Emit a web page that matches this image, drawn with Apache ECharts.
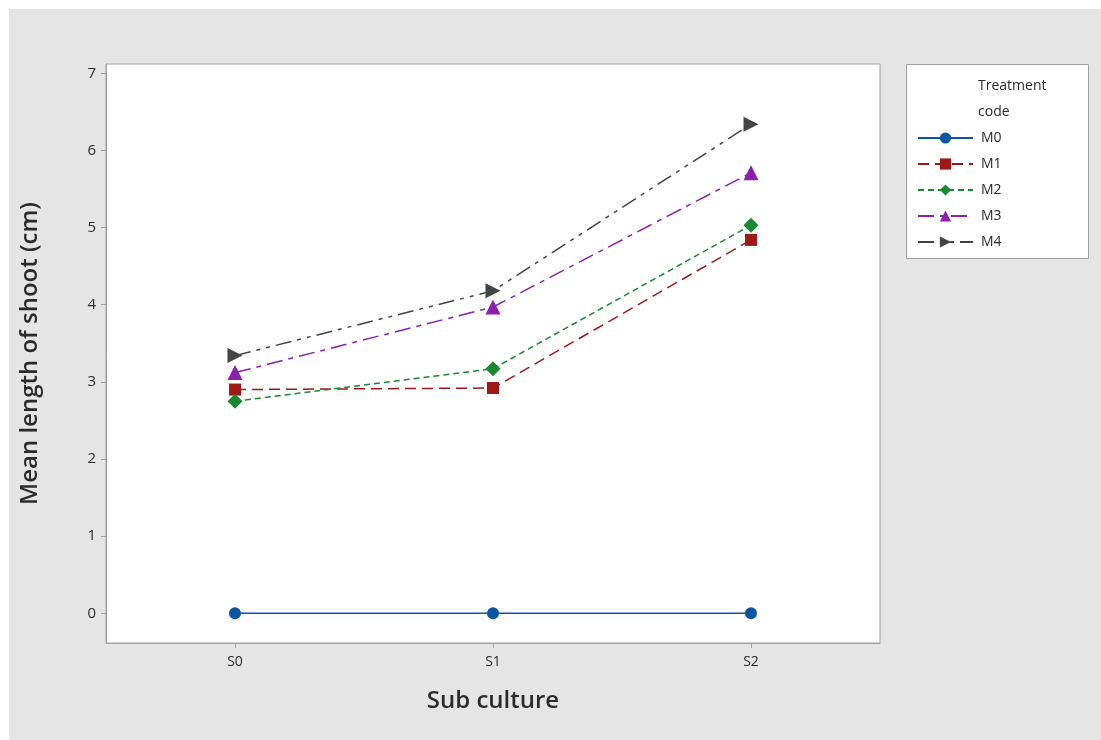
<!DOCTYPE html>
<html>
<head>
<meta charset="utf-8">
<script src="https://cdn.jsdelivr.net/npm/echarts@6/dist/echarts.min.js"></script>
<style>
html,body{margin:0;padding:0;background:#ffffff;}
#c{width:1101px;height:740px;}
</style>
</head>
<body>
<div id="c"></div>
<script>
var categories = ['S0', 'S1', 'S2'];
var yTicks = [0, 1, 2, 3, 4, 5, 6, 7];
var seriesNames = ['M0', 'M1', 'M2', 'M3', 'M4'];
var M0 = [0, 0, 0];
var M1 = [2.90, 2.92, 4.84];
var M2 = [2.75, 3.17, 5.03];
var M3 = [3.12, 3.97, 5.71];
var M4 = [3.34, 4.18, 6.34];

var FONT = '"Open Sans", "Noto Sans", sans-serif';
var chart = echarts.init(document.getElementById('c'), null, {renderer: 'canvas'});

function mk(name, data, color, symbol, size, dash, rot) {
  return {
    name: name, type: 'line', data: data,
    symbol: symbol, symbolSize: size, symbolRotate: rot || 0,
    showAllSymbol: true,
    lineStyle: {color: color, width: 1.5, type: dash},
    itemStyle: {color: color},
    emphasis: {disabled: true},
    animation: false
  };
}

var option = {
  backgroundColor: '#ffffff',
  animation: false,
  graphic: [
    {type: 'rect', shape: {x: 9, y: 9, width: 1092, height: 731}, style: {fill: '#e5e5e5'}, z: -10, silent: true},
    {type: 'rect', shape: {x: 906.5, y: 64.5, width: 182, height: 194}, style: {fill: '#ffffff', stroke: '#a0a0a0', lineWidth: 1}, z: 0, silent: true},
    {type: 'text', left: 978, top: 73, style: {text: 'Treatment\ncode', font: '14px ' + FONT, fill: '#2b2b2b', lineHeight: 26}, z: 5, silent: true}
  ],
  grid: {left: 106, top: 64, right: 221, bottom: 97, show: true, backgroundColor: '#ffffff', borderColor: '#a0a0a0', borderWidth: 1, containLabel: false},
  legend: {
    data: seriesNames,
    orient: 'vertical',
    left: 912, top: 126,
    itemWidth: 55, itemHeight: 14, itemGap: 12,
    textStyle: {fontFamily: FONT, fontSize: 14, color: '#2b2b2b', padding: [0, 0, 0, 3]},
    selectedMode: false
  },
  xAxis: {
    type: 'category', data: categories, boundaryGap: true,
    name: 'Sub culture', nameLocation: 'middle', nameGap: 46,
    nameTextStyle: {fontFamily: FONT, fontSize: 24, fontWeight: 600, color: '#2b2b2b'},
    axisLine: {show: true, onZero: false, lineStyle: {color: '#a0a0a0'}},
    axisTick: {show: true, alignWithLabel: true, length: 5, lineStyle: {color: '#a0a0a0'}},
    axisLabel: {fontFamily: FONT, fontSize: 14, color: '#2b2b2b', margin: 12},
    splitLine: {show: false}
  },
  yAxis: {
    type: 'value', min: -0.385, max: 7.12,
    name: 'Mean length of shoot (cm)', nameLocation: 'middle', nameGap: 64,
    nameTextStyle: {fontFamily: FONT, fontSize: 24, fontWeight: 600, color: '#2b2b2b'},
    axisLine: {show: true, lineStyle: {color: '#a0a0a0'}},
    axisTick: {show: true, length: 5, customValues: yTicks, lineStyle: {color: '#a0a0a0'}},
    axisLabel: {fontFamily: FONT, fontSize: 15, color: '#2b2b2b', margin: 10, customValues: yTicks},
    splitLine: {show: false}
  },
  series: [
    mk('M0', M0, '#0b56a4', 'circle', 12, 'solid'),
    mk('M1', M1, '#a01818', 'rect', 12, [11, 6]),
    mk('M2', M2, '#178a30', 'diamond', 15, [6, 4]),
    mk('M3', M3, '#8c1fae', 'triangle', 15, [16, 6, 5, 6]),
    mk('M4', M4, '#444444', 'triangle', 15, [16, 6, 4, 6, 4, 6], -90)
  ]
};
chart.setOption(option);
</script>
</body>
</html>
